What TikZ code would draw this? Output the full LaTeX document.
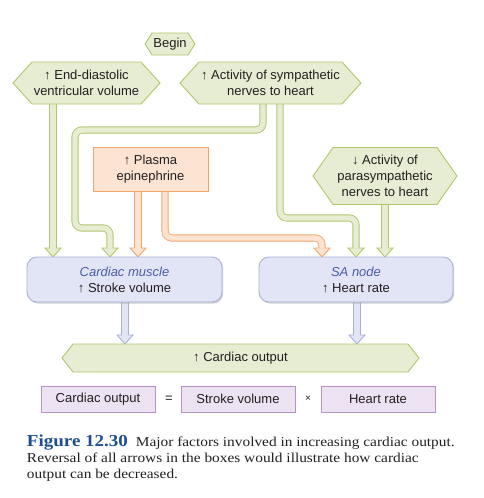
\documentclass[tikz,border=0pt]{standalone}
\usepackage{fontspec}
\setmainfont{Liberation Sans}
\newfontfamily\capfont[FakeStretch=1.13]{Liberation Serif}
\usetikzlibrary{calc,backgrounds,shadows}
\definecolor{gdark}{HTML}{B0C66E}
\definecolor{glight}{HTML}{E7EDD2}
\definecolor{odark}{HTML}{F4A56C}
\definecolor{olight}{HTML}{FDE3D1}
\definecolor{bdark}{HTML}{A9B1D9}
\definecolor{blight}{HTML}{E2E5F5}
\definecolor{pdark}{HTML}{B592C5}
\definecolor{plight}{HTML}{ECE2F1}
\definecolor{txt}{HTML}{231F20}
\definecolor{ital}{HTML}{4A5DA6}
\definecolor{capblue}{HTML}{1F4E90}
\newcommand\hexshape[2]{%
  \draw[hexa] (#1.west) -- ([xshift=#2]#1.north west) -- ([xshift=-#2]#1.north east) -- (#1.east)
    -- ([xshift=-#2]#1.south east) -- ([xshift=#2]#1.south west) -- cycle;}
\newcommand\pipe[3]{%
  \draw[line width=7.2pt, #1dark, rounded corners=7pt] #2 -- ($(#3)+(0,-8.5)$);
  \draw[#1dark, fill=#1light, line width=0.9pt, line join=miter] ($(#3)+(-8,-9)$) -- (#3) -- ($(#3)+(8,-9)$) -- cycle;
  \draw[line width=5.4pt, #1light, rounded corners=7pt] #2 -- ($(#3)+(0,-8.4)$);}
\begin{document}
\begin{tikzpicture}[x=1pt, y=-1pt,
  every node/.style={outer sep=0pt, inner sep=0pt, text=txt, font=\fontsize{13}{16}\selectfont, align=center},
  hexa/.style={draw=gdark, fill=glight, line width=0.9pt, line join=miter},
  pebox/.style={draw=odark, fill=olight, line width=0.9pt},
  bluebox/.style={draw=bdark, fill=blight, line width=0.9pt, rounded corners=10pt,
    drop shadow={shadow xshift=1.2pt, shadow yshift=-1.6pt, fill=black!40, opacity=0.45}},
  purplebox/.style={draw=pdark, fill=plight, line width=0.9pt},
  capline/.style={anchor=base west, align=left, font=\capfont\fontsize{13.6}{16}\selectfont}]
\useasboundingbox (0,0) rectangle (483,498);
% hexagon nodes (shape drawn on background)
\node[minimum width=50pt, minimum height=22pt] (begin) at (170,44) {Begin};
\node[minimum width=147pt, minimum height=42pt] (ed) at (86.5,83) {↑ End-diastolic\\ventricular volume};
\node[minimum width=181pt, minimum height=42pt] (sym) at (270.5,83) {↑ Activity of sympathetic\\nerves to heart};
\node[minimum width=144pt, minimum height=57pt] (para) at (385,176) {↓ Activity of\\parasympathetic\\nerves to heart};
\node[minimum width=357pt, minimum height=28pt] (co) at (240.5,358) {↑ Cardiac output};
% boxes
\node[pebox, minimum width=115pt, minimum height=44pt] (pe) at (150.5,169) {↑ Plasma\\epinephrine};
\node[bluebox, minimum width=195pt, minimum height=45pt] (cm) at (124.5,279.5) {\textcolor{ital}{\itshape Cardiac muscle}\\↑ Stroke volume};
\node[bluebox, minimum width=194pt, minimum height=45pt] (sa) at (356,279.5) {\textcolor{ital}{\itshape SA node}\\↑ Heart rate};
\node[purplebox, minimum width=114pt, minimum height=26pt] (b1) at (98,399) {Cardiac output};
\node[purplebox, minimum width=114pt, minimum height=26pt] (b2) at (238,399) {Stroke volume};
\node[purplebox, minimum width=114pt, minimum height=26pt] (b3) at (378,399) {Heart rate};
\node (eq) at (169,399) {=};
\node[font=\fontsize{10}{12}\selectfont] (tm) at (308,399) {×};
% arrow tips
\coordinate (t1) at (53,0 |- cm.north);
\coordinate (t2) at (110,0 |- cm.north);
\coordinate (t3) at (356,0 |- sa.north);
\coordinate (t4) at (385,0 |- sa.north);
\coordinate (t5) at (138,0 |- cm.north);
\coordinate (t6) at (322,0 |- sa.north);
\coordinate (t7) at (125,0 |- co.north);
\coordinate (t8) at (357,0 |- co.north);
\begin{scope}[on background layer]
  \pipe{g}{(53,0 |- ed.south)}{t1}
  \pipe{g}{(263,0 |- sym.south) -- (263,130) -- (75,130) -- (75,228) -- (110,228)}{t2}
  \pipe{g}{(280,0 |- sym.south) -- (280,218) -- (356,218)}{t3}
  \pipe{g}{(385,0 |- para.south)}{t4}
  \pipe{o}{(138,0 |- pe.south)}{t5}
  \pipe{o}{(165,0 |- pe.south) -- (165,238) -- (322,238)}{t6}
  \pipe{b}{(125,0 |- cm.south)}{t7}
  \pipe{b}{(357,0 |- sa.south)}{t8}
  \hexshape{begin}{7pt}
  \hexshape{ed}{19pt}
  \hexshape{sym}{19pt}
  \hexshape{para}{20pt}
  \hexshape{co}{11pt}
\end{scope}
% caption
\node[capline] (cap1) at (27,446) {{\fontsize{16.8}{18}\selectfont\bfseries\color{capblue}Figure 12.30}\hspace{8pt}Major factors involved in increasing cardiac output.};
\node[capline] (cap2) at (27,462) {Reversal of all arrows in the boxes would illustrate how cardiac};
\node[capline] (cap3) at (27,478) {output can be decreased.};
\end{tikzpicture}
\end{document}
